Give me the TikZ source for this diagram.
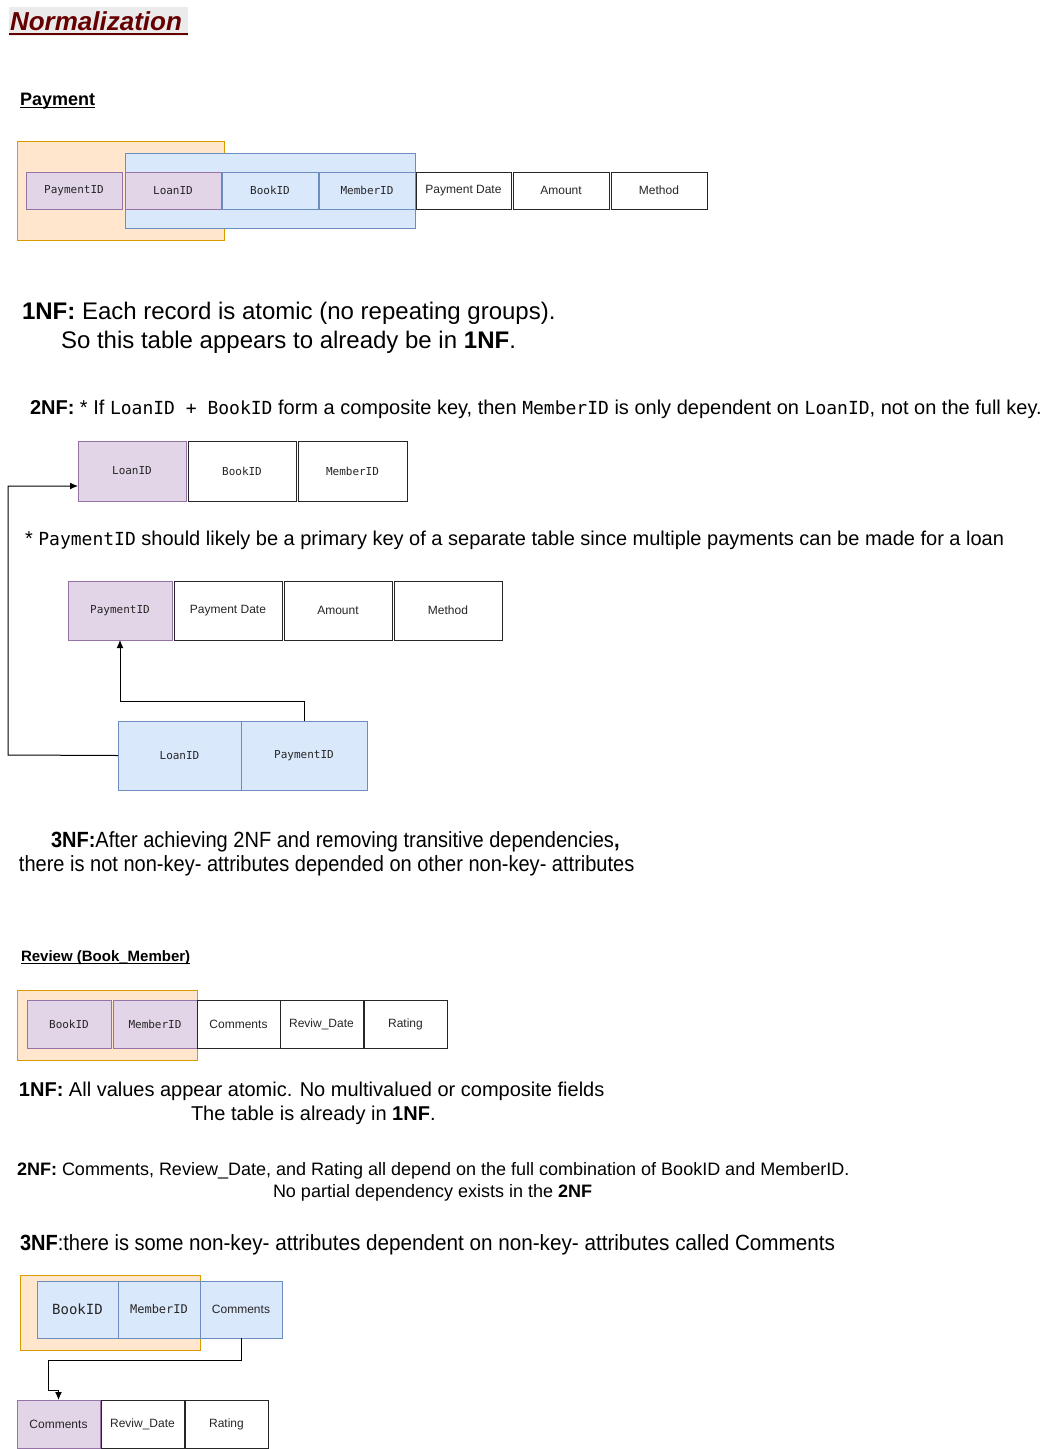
\documentclass[tikz,border=0pt]{standalone}
\usepackage{fontspec}
\setmainfont{Liberation Sans}
\newfontfamily\monof{DejaVu Sans Mono}
\newfontfamily\narrowf{Liberation Sans}[FakeStretch=0.91]
\newfontfamily\narrowbf{Liberation Sans}[FakeStretch=0.94]
\usetikzlibrary{arrows.meta}
\definecolor{ofill}{HTML}{FFE6CC}
\definecolor{odraw}{HTML}{D79B00}
\definecolor{bfill}{HTML}{DAE8FC}
\definecolor{bdraw}{HTML}{6C8EBF}
\definecolor{pfill}{HTML}{E1D5E7}
\definecolor{pdraw}{HTML}{9673A6}
\definecolor{titlered}{HTML}{660000}
\definecolor{titlebg}{HTML}{EBEBEB}
\newcommand\fs[1]{\fontsize{#1}{#1}\selectfont}
% \cellnode{name}{x1}{y1}{x2}{y2}{style}{text}
\newcommand\cellnode[7]{\node[#6, anchor=north west, minimum width={(#4-(#2))*1pt}, minimum height={(#5-(#3))*1pt}] (#1) at (#2,#3) {#7};}
\newcommand\boxrect[5]{\node[#5, anchor=north west, minimum width={(#3-(#1))*1pt}, minimum height={(#4-(#2))*1pt}] at (#1,#2) {};}
\tikzset{
  tcell/.style={draw=black!85, fill=white, line width=1pt, inner sep=0pt, outer sep=0pt, text=black!85, font=\fs{12}},
  mcell/.style={tcell, font=\monof\fs{11}},
  pkcell/.style={draw=pdraw, fill=pfill},
  bkcell/.style={draw=bdraw, fill=bfill},
  obox/.style={draw=odraw, fill=ofill, line width=1pt, inner sep=0pt},
  bbox/.style={draw=bdraw, fill=bfill, line width=1pt, inner sep=0pt},
  txt/.style={anchor=base west, inner sep=0pt, outer sep=0pt, text=black},
  arr/.style={draw=black, line width=1pt, -{Latex[length=8pt,width=7pt]}},
  uline/.style={draw=black, line width=1pt}
}
\begin{document}
\begin{tikzpicture}[x=1pt,y=-1pt]
\useasboundingbox[fill=white] (0,0) rectangle (1058,1449);
% title
\fill[titlebg] (9,7) rectangle (188,36);
\node[txt, text=titlered, font=\bfseries\itshape\fs{26}] (title) at (10,30) {Normalization};
\draw[titlered, line width=2pt] (9,34) -- (188,34);
% Payment heading
\node[txt, font=\bfseries\fs{18}] (payhead) at (20,105) {Payment};
\draw[uline] ([yshift=-2pt]payhead.base west) -- ([yshift=-2pt]payhead.base east);
% table 1
\boxrect{17}{141}{224}{240}{obox}
\boxrect{125}{153}{415}{228}{bbox}
\cellnode{p1pay}{26}{172}{122}{209}{mcell,pkcell}{PaymentID}
\cellnode{p1loan}{125}{172}{221}{209}{mcell,pkcell}{LoanID}
\cellnode{p1book}{222}{172}{318}{209}{mcell,bkcell}{BookID}
\cellnode{p1mem}{319}{172}{415}{209}{mcell,bkcell}{MemberID}
\cellnode{p1date}{416}{172}{511}{209}{tcell}{Payment Date}
\cellnode{p1amt}{513}{172}{609}{209}{tcell}{Amount}
\cellnode{p1meth}{611}{172}{707}{209}{tcell}{Method}
% 1NF
\node[txt, font=\fs{24}] (nf1a) at (22,319) {\textbf{1NF:} Each record is atomic (no repeating groups).};
\node[txt, font=\fs{24}] (nf1b) at (61,348) {So this table appears to already be in \textbf{1NF}.};
% 2NF
\node[txt, font=\fs{20}] (nf2a) at (30,414) {\textbf{2NF:} * If {\monof\fs{18}LoanID + BookID} form a composite key, then {\monof\fs{18}MemberID} is only dependent on {\monof\fs{18}LoanID}, not on the full key.};
\cellnode{t2loan}{78}{441}{186}{501}{mcell,pkcell}{LoanID}
\cellnode{t2book}{188}{441}{296}{501}{mcell}{BookID}
\cellnode{t2mem}{298}{441}{407}{501}{mcell}{MemberID}
\node[txt, font=\fs{20}] (nf2b) at (25,545) {* {\monof\fs{18}PaymentID} should likely be a primary key of a separate table since multiple payments can be made for a loan};
\cellnode{t3pay}{68}{581}{172}{640}{mcell,pkcell}{PaymentID}
\cellnode{t3date}{174}{581}{282}{640}{tcell}{Payment Date}
\cellnode{t3amt}{284}{581}{392}{640}{tcell}{Amount}
\cellnode{t3meth}{394}{581}{502}{640}{tcell}{Method}
\cellnode{t4loan}{118}{721}{241}{790}{mcell,bkcell}{LoanID}
\cellnode{t4pay}{241}{721}{367}{790}{mcell,bkcell}{PaymentID}
\coordinate (c1) at (8,755);
\draw[arr] (t4loan.west) -- (c1) |- ([yshift=-15pt]t2loan.west);
\draw[arr] (t4pay.north) -- ++(0,-20) -| (t3pay.south);
% 3NF
\node[txt, font=\narrowf\fs{22}] (nf3a) at (51,847) {\textbf{3NF:}After achieving 2NF and removing transitive dependencies\textbf{,}};
\node[txt, font=\narrowf\fs{22}] (nf3b) at (19,871) {there is not non-key- attributes depended on other non-key- attributes};
% Review heading
\node[txt, font=\bfseries\fs{15}] (revhead) at (21,961) {Review (Book\_Member)\ };
\draw[uline] ([yshift=-2pt]revhead.base west) -- ([yshift=-2pt]revhead.base east);
\boxrect{17}{990}{197}{1060}{obox}
\cellnode{r1book}{27}{1000}{111}{1048}{mcell,pkcell}{BookID}
\cellnode{r1mem}{113}{1000}{197}{1048}{mcell,pkcell}{MemberID}
\cellnode{r1com}{197}{1000}{280}{1048}{tcell}{Comments}
\cellnode{r1date}{280}{1000}{363}{1048}{tcell}{Reviw\_Date}
\cellnode{r1rat}{364}{1000}{447}{1048}{tcell}{Rating}
\node[txt, font=\fs{20}] (rnf1a) at (19,1096) {\textbf{1NF:} All values appear atomic. No multivalued or composite fields};
\node[txt, font=\fs{20}] (rnf1b) at (191,1120) {The table is already in \textbf{1NF}.};
\node[txt, font=\fs{18}] (rnf2a) at (17,1175) {\textbf{2NF:} Comments, Review\_Date, and Rating all depend on the full combination of BookID and MemberID.};
\node[txt, font=\fs{18}] (rnf2b) at (273,1197) {No partial dependency exists in the \textbf{2NF}};
\node[txt, font=\narrowf\fs{22}] (rnf3) at (20,1250) {\textbf{3NF}:there is some {\narrowbf\fs{22}non-key- attributes dependent on non-key- attributes called Comments}};
\boxrect{20}{1275}{200}{1350}{obox}
\cellnode{c3book}{37}{1281}{118}{1338}{mcell,bkcell,font=\monof\fs{14}}{BookID}
\cellnode{c3mem}{118}{1281}{200}{1338}{mcell,bkcell,font=\monof\fs{12}}{MemberID}
\cellnode{c3com}{200}{1281}{282}{1338}{tcell,bkcell}{Comments}
\cellnode{r2com}{17}{1400}{100}{1448}{tcell,pkcell}{Comments}
\cellnode{r2date}{101}{1400}{184}{1448}{tcell}{Reviw\_Date}
\cellnode{r2rat}{185}{1400}{268}{1448}{tcell}{Rating}
\coordinate (c2) at (48,1390);
\draw[arr] (c3com.south) -- ++(0,22) -| (c2) -| (r2com.north);
\end{tikzpicture}
\end{document}
